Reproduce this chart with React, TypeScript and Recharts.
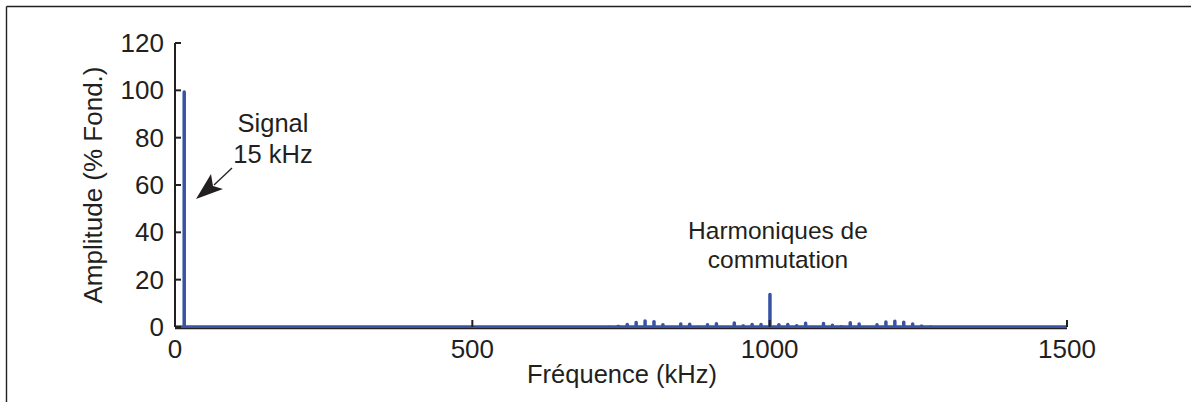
import { ComposedChart, Bar, XAxis, YAxis, ReferenceLine } from 'recharts';

// spectrum lines (kHz) and their amplitude in % of the fundamental
const FREQS_KHZ = [
  15, 150,
  715, 730, 745, 760, 775, 790, 805, 820, 835, 850, 865, 880, 895, 910, 940, 955, 970, 985,
  1000,
  1015, 1030, 1045, 1060, 1090, 1105, 1120, 1135, 1150, 1165, 1180, 1195, 1210, 1225, 1240, 1255, 1270, 1285, 1300,
];
const AMPLITUDES = [
  100, 0.4,
  0.2, 0.5, 1.0, 1.8, 2.6, 3.3, 3.0, 1.7, 0.4, 2.0, 1.9, 0.5, 1.7, 2.1, 2.4, 1.2, 1.8, 1.8,
  14.5,
  1.7, 1.8, 1.3, 2.3, 2.2, 1.5, 0.7, 2.5, 2.0, 0.2, 1.7, 2.8, 3.2, 2.7, 2.0, 1.1, 0.6, 0.3, 0.2,
];
const X_TICKS = [0, 500, 1000, 1500];
const Y_TICKS = [0, 20, 40, 60, 80, 100, 120];

const data = FREQS_KHZ.map((f, i) => ({ f, amp: AMPLITUDES[i] }));

const INK = '#231f20';
const BLUE = '#3953a4';
const FONT = '"Liberation Sans", Arial, Helvetica, sans-serif';

// ticks point inward, like the original matlab-style plot
const YTick = (props: any) => {
  const { x, y, payload } = props;
  return (
    <g>
      <line x1={x} x2={x + 6} y1={y} y2={y} stroke={INK} strokeWidth={2} />
      <text x={x - 11} y={y + 9} textAnchor='end' fill={INK} fontSize={26} fontFamily={FONT}>
        {payload.value}
      </text>
    </g>
  );
};

const XTick = (props: any) => {
  const { x, y, payload } = props;
  return (
    <g>
      <line x1={x} x2={x} y1={y} y2={y - 7} stroke={INK} strokeWidth={2} />
      <text x={x} y={y + 31} textAnchor='middle' fill={INK} fontSize={26} fontFamily={FONT}>
        {payload.value}
      </text>
    </g>
  );
};

export default function App() {
  return (
    <div style={{ position: 'absolute', left: 0, top: 0, width: 1191, height: 402, background: '#fff', overflow: 'hidden' }}>
      <ComposedChart
        width={1191}
        height={402}
        data={data}
        margin={{ top: 43, right: 124, left: 115, bottom: 35 }}
      >
        <XAxis
          dataKey='f'
          type='number'
          domain={[0, 1500]}
          ticks={X_TICKS}
          height={40}
          tickSize={0}
          tickMargin={0}
          tickLine={false}
          tick={<XTick />}
          axisLine={false}
        />
        <YAxis
          type='number'
          domain={[0, 120]}
          ticks={Y_TICKS}
          width={60}
          tickSize={0}
          tickMargin={0}
          tickLine={false}
          tick={<YTick />}
          axisLine={{ stroke: INK, strokeWidth: 2 }}
        />
        {/* black x axis just below the blue zero line of the spectrum */}
        <ReferenceLine y={0} stroke={INK} strokeWidth={2} transform='translate(0,1.3)' />
        <ReferenceLine y={0} stroke={BLUE} strokeWidth={2.5} transform='translate(0,-0.6)' />
        <Bar dataKey='amp' fill={BLUE} barSize={3.5} radius={[1.7, 1.7, 0, 0]} isAnimationActive={false} />
      </ComposedChart>

      <svg
        width={1191}
        height={402}
        style={{ position: 'absolute', left: 0, top: 0, pointerEvents: 'none' }}
        fontFamily={FONT}
        fill={INK}
      >
        {/* frame of the figure, cropped on the right and bottom */}
        <line x1={6.5} y1={6.5} x2={1191} y2={6.5} stroke={INK} strokeWidth={1.4} />
        <line x1={6.5} y1={6.5} x2={6.5} y2={402} stroke={INK} strokeWidth={1.4} />

        <text x={102} y={185} transform='rotate(-90 102 185)' textAnchor='middle' fontSize={26}>
          Amplitude (% Fond.)
        </text>
        <text x={622} y={383} textAnchor='middle' fontSize={25.5}>
          Fréquence (kHz)
        </text>

        <text x={273} y={132} textAnchor='middle' fontSize={25.5}>Signal</text>
        <text x={273} y={163} textAnchor='middle' fontSize={25.5}>15 kHz</text>
        <line x1={232} y1={168} x2={214} y2={185} stroke={INK} strokeWidth={1.3} />
        <polygon points='196,199 223,189 213,186 211,174' fill={INK} />

        <text x={778} y={239} textAnchor='middle' fontSize={24.5}>Harmoniques de</text>
        <text x={778} y={268} textAnchor='middle' fontSize={24.5}>commutation</text>
      </svg>
    </div>
  );
}
